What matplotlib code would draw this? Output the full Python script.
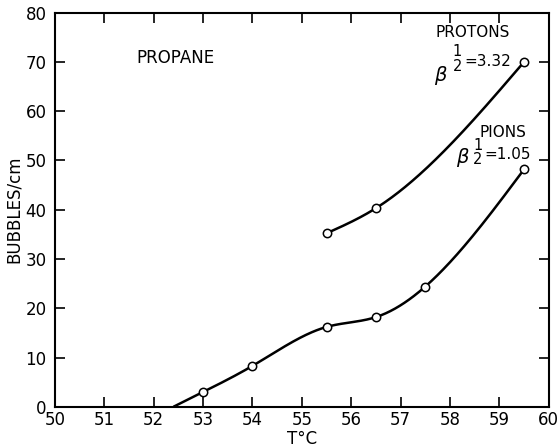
import matplotlib
matplotlib.use("Agg")
import matplotlib.pyplot as plt
import numpy as np

# values
pion_t = [53.0, 54.0, 55.5, 56.5, 57.5, 59.5]
pion_b = [3.0, 8.3, 16.2, 18.2, 24.4, 48.2]
pion_start = (52.4, 0.0)   # where the pion curve leaves the axis

proton_t = [55.5, 56.5, 59.5]
proton_b = [35.2, 40.3, 70.0]

xticks = list(range(50, 61))
yticks = list(range(0, 81, 10))


def smooth(xs, ys, n=300):
  # natural cubic spline through the measured points, only to draw the pen line
  x = np.asarray(xs, float)
  y = np.asarray(ys, float)
  k = len(x)
  h = np.diff(x)
  A = np.zeros((k, k))
  r = np.zeros(k)
  A[0, 0] = A[-1, -1] = 1
  for i in range(1, k - 1):
    A[i, i - 1] = h[i - 1]
    A[i, i] = 2 * (h[i - 1] + h[i])
    A[i, i + 1] = h[i]
    r[i] = 6 * ((y[i + 1] - y[i]) / h[i] - (y[i] - y[i - 1]) / h[i - 1])
  m = np.linalg.solve(A, r)
  xx = np.linspace(x[0], x[-1], n)
  j = np.clip(np.searchsorted(x, xx) - 1, 0, k - 2)
  a = x[j + 1] - xx
  b = xx - x[j]
  hj = h[j]
  yy = (m[j] * a ** 3 + m[j + 1] * b ** 3) / (6 * hj) \
      + (y[j] / hj - m[j] * hj / 6) * a + (y[j + 1] / hj - m[j + 1] * hj / 6) * b
  return xx, yy


plt.rcParams['font.family'] = ['DejaVu Sans']
fig = plt.figure(figsize=(5.6, 4.48), dpi=100)
ax = fig.add_axes([0.098, 0.092, 0.882, 0.880])

cx, cy = smooth([pion_start[0]] + pion_t, [pion_start[1]] + pion_b)
ax.plot(cx, cy, color='black', lw=1.8, solid_capstyle='butt')
cx, cy = smooth(proton_t, proton_b)
ax.plot(cx, cy, color='black', lw=1.8)

ax.plot(pion_t, pion_b, 'o', ms=6, mfc='white', mec='black', mew=1.1)
ax.plot(proton_t, proton_b, 'o', ms=6, mfc='white', mec='black', mew=1.1)

ax.set_xlim(50, 60)
ax.set_ylim(0, 80)
ax.set_xticks(xticks)
ax.set_yticks(yticks)
ax.tick_params(direction='in', length=7, width=1.2, top=True, right=True,
               labelsize=12, pad=3)
ax.tick_params(axis='y', pad=6)
for s in ax.spines.values():
  s.set_linewidth(1.5)

ax.set_xlabel('T°C', fontsize=12)
ax.xaxis.set_label_coords(0.5, -0.058)
ax.set_ylabel('BUBBLES/cm', fontsize=12, labelpad=2)

ax.text(51.65, 70.8, 'PROPANE', fontsize=12, va='center', ha='left')

ax.text(58.45, 76.0, 'PROTONS', fontsize=11, ha='center', va='center')
ax.text(57.67, 67.3, r'$\beta$', fontsize=14, ha='left', va='center')
ax.text(58.15, 70.6, '1\n2', fontsize=10.5, ha='center', va='center', linespacing=0.95)
ax.text(58.3, 70.1, '=3.32', fontsize=11, ha='left', va='center')

ax.text(59.07, 55.6, 'PIONS', fontsize=11, ha='center', va='center')
ax.text(58.13, 50.6, r'$\beta$', fontsize=14, ha='left', va='center')
ax.text(58.56, 51.6, '1\n2', fontsize=10.5, ha='center', va='center', linespacing=0.95)
ax.text(58.69, 51.1, '=1.05', fontsize=11, ha='left', va='center')

fig.savefig('out.png', dpi=100)
